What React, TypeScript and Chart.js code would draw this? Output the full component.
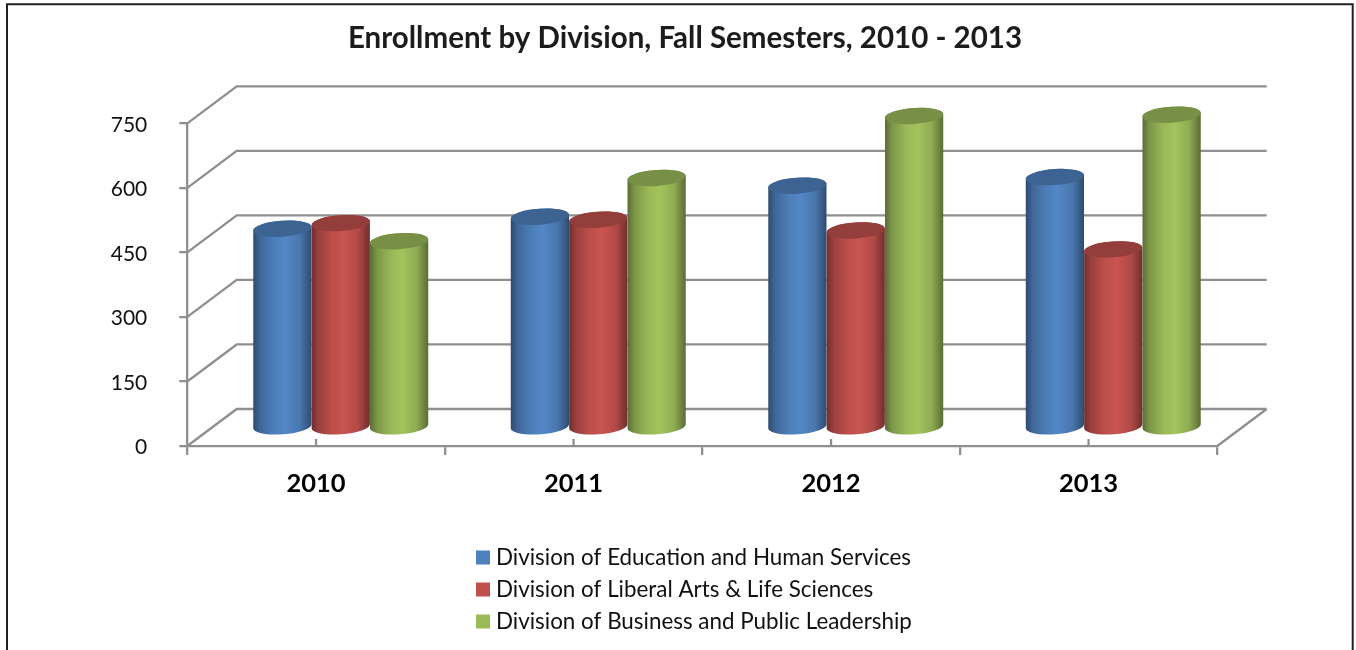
import React, { useEffect, useRef } from "react";
import { Chart, registerables, BarController, BarElement } from "chart.js";

const categories = ["2010", "2011", "2012", "2013"];
const educationValues = [462, 490, 562, 582];
const liberalArtsValues = [475, 483, 458, 414];
const businessValues = [433, 580, 724, 727];
const seriesNames = [
  "Division of Education and Human Services",
  "Division of Liberal Arts & Life Sciences",
  "Division of Business and Public Leadership",
];
const seriesColors = ["#4f81bd", "#c0504d", "#9bbb59"];
const titleText = "Enrollment by Division, Fall Semesters, 2010 - 2013";

const FONT = "Lato, sans-serif";
const GRID = "#8f8f8f";
const GRID_WIDTH = 2.3;
const DEPTH_X = 49.4;
const DEPTH_Y = 37;
const CAP_RY = 8;
const CAP_TILT = -0.07;

function shade(hex: string, k: number) {
  const n = parseInt(hex.slice(1), 16);
  const c = (v: number) => Math.max(0, Math.min(255, Math.round(v * k)));
  return `rgb(${c((n >> 16) & 255)},${c((n >> 8) & 255)},${c(n & 255)})`;
}

class CylinderElement extends BarElement {
  static id = "cylinder";
  static defaults = BarElement.defaults;
  draw(ctx: CanvasRenderingContext2D) {
    const { x, y, base, width } = (this as any).getProps(["x", "y", "base", "width"], true);
    const color = (this as any).options.backgroundColor as string;
    const cx = x + DEPTH_X / 2;
    const top = y - DEPTH_Y / 2;
    const bottom = base - DEPTH_Y / 2;
    const rx = width / 2;
    const lift = Math.sin(CAP_TILT) * rx;
    const reach = Math.cos(CAP_TILT) * rx;
    const g = ctx.createLinearGradient(cx - rx, 0, cx + rx, 0);
    g.addColorStop(0, shade(color, 0.58));
    g.addColorStop(0.12, shade(color, 0.8));
    g.addColorStop(0.35, shade(color, 0.98));
    g.addColorStop(0.55, shade(color, 1.05));
    g.addColorStop(0.8, shade(color, 0.92));
    g.addColorStop(1, shade(color, 0.58));
    ctx.save();
    ctx.fillStyle = g;
    ctx.beginPath();
    ctx.moveTo(cx - reach, top - lift);
    ctx.lineTo(cx - reach, bottom - lift);
    ctx.ellipse(cx, bottom, rx, CAP_RY, CAP_TILT, Math.PI, 0, true);
    ctx.lineTo(cx + reach, top + lift);
    ctx.ellipse(cx, top, rx, CAP_RY, CAP_TILT, 0, Math.PI, true);
    ctx.closePath();
    ctx.fill();
    ctx.fillStyle = shade(color, 0.77);
    ctx.beginPath();
    ctx.ellipse(cx, top, rx, CAP_RY, CAP_TILT, 0, Math.PI * 2);
    ctx.fill();
    ctx.restore();
  }
}

// Later series must paint over earlier ones, while keeping left-to-right order.
class CylinderController extends BarController {
  static id = "cylinder";
  static defaults = { ...BarController.defaults, dataElementType: "cylinder" };
  static overrides = BarController.overrides;
  _getStackIndex(datasetIndex: number, name: any, dataIndex: number) {
    const count = (this as any)._getStacks(undefined, dataIndex).length;
    const index = (BarController.prototype as any)._getStackIndex.call(this, datasetIndex, name, dataIndex);
    return count - 1 - index;
  }
}

Chart.register(...registerables, CylinderElement, CylinderController);

const framePlugin = {
  id: "frameAndWalls",
  afterLayout(chart: any) {
    const t = chart.titleBlock;
    t.left = 0;
    t.right = 1370;
    const l = chart.legend;
    l.left = 471.6;
    l.right = 1000;
    l.top = 536.6;
    l.bottom = 650;
  },
  beforeDraw(chart: any) {
    const { ctx, width, height } = chart;
    ctx.save();
    ctx.fillStyle = "#fff";
    ctx.fillRect(0, 0, width, height);
    ctx.strokeStyle = "#222";
    ctx.lineWidth = 2;
    ctx.beginPath();
    ctx.moveTo(7, height + 2);
    ctx.lineTo(7, 4.3);
    ctx.lineTo(1352.7, 4.3);
    ctx.lineTo(1352.7, height + 2);
    ctx.stroke();
    ctx.restore();
  },
  beforeDatasetsDraw(chart: any) {
    const { ctx, scales, chartArea } = chart;
    const yScale = scales.y;
    const xScale = scales.x;
    ctx.save();
    ctx.strokeStyle = GRID;
    ctx.lineWidth = GRID_WIDTH;
    ctx.beginPath();
    yScale.ticks.forEach((t: any) => {
      const py = yScale.getPixelForValue(t.value);
      ctx.moveTo(chartArea.left, py);
      ctx.lineTo(chartArea.left + DEPTH_X, py - DEPTH_Y);
      ctx.lineTo(chartArea.right + DEPTH_X, py - DEPTH_Y);
    });
    ctx.moveTo(chartArea.right, chartArea.bottom);
    ctx.lineTo(chartArea.right + DEPTH_X, chartArea.bottom - DEPTH_Y);
    categories.forEach((_, i) => {
      const px = xScale.getPixelForValue(i);
      ctx.moveTo(px, chartArea.bottom);
      ctx.lineTo(px, chartArea.bottom - 7);
    });
    ctx.stroke();
    ctx.restore();
  },
};

export default function App() {
  const ref = useRef<HTMLCanvasElement>(null);
  useEffect(() => {
    const values = [educationValues, liberalArtsValues, businessValues];
    const chart = new Chart(ref.current!, {
      type: "cylinder" as any,
      data: {
        labels: categories,
        datasets: seriesNames.map((label, i) => ({
          label,
          data: values[i],
          backgroundColor: seriesColors[i],
          order: seriesNames.length - i,
          clip: false,
          categoryPercentage: 0.68,
          barPercentage: 1,
        })) as any,
      },
      options: {
        animation: false,
        responsive: false,
        events: [],
        layout: { padding: { left: 0, right: 138.7, top: 0, bottom: 0 } },
        plugins: {
          tooltip: { enabled: false },
          title: {
            display: true,
            text: titleText,
            color: "#1c1c1c",
            font: { family: FONT, size: 29.5, weight: "bold", lineHeight: 1.2 },
            padding: { top: 20.3, bottom: 67.6 },
          },
          legend: {
            display: true,
            position: "chartArea",
            align: "start",
            reverse: true,
            labels: {
              boxWidth: 3.6,
              boxHeight: 3.6,
              padding: 9.6,
              color: "#111",
              font: { family: FONT, size: 22.4, lineHeight: 1 },
              generateLabels: (chart: any) =>
                (Chart.defaults.plugins.legend.labels as any).generateLabels(chart).map((item: any) => ({
                  ...item,
                  strokeStyle: item.fillStyle,
                  lineWidth: 10.4,
                })),
            },
          } as any,
        },
        scales: {
          x: {
            afterFit: (s: any) => { s.height = 204; },
            grid: { drawOnChartArea: false, color: GRID, lineWidth: GRID_WIDTH, tickLength: 9 },
            border: { display: true, color: GRID, width: GRID_WIDTH },
            ticks: { color: "#000", padding: 13, maxRotation: 0, font: { family: FONT, size: 25.5, weight: "bold" } },
          },
          y: {
            min: 0,
            max: 750,
            afterFit: (s: any) => { s.width = 187.3; },
            grid: { drawOnChartArea: false, color: GRID, lineWidth: GRID_WIDTH, tickLength: 8 },
            border: { display: true, color: GRID, width: GRID_WIDTH },
            ticks: { stepSize: 150, color: "#111", padding: 32, labelOffset: 1.5, font: { family: FONT, size: 21 } },
          },
        },
      },
      plugins: [framePlugin],
    } as any);
    return () => chart.destroy();
  }, []);
  return (
    <div style={{ position: "fixed", left: 0, top: 0, width: 1356, height: 650, background: "#fff" }}>
      <canvas ref={ref} width={1356} height={650} style={{ display: "block", filter: "blur(0.4px)" }} />
    </div>
  );
}
